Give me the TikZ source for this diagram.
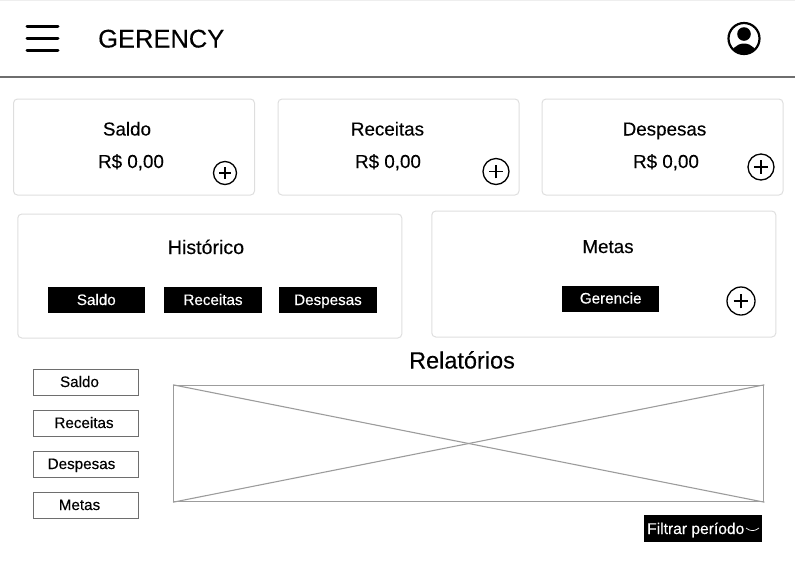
\documentclass[tikz,border=0pt]{standalone}
\usepackage{fontspec}
\setmainfont[RawFeature={embolden=0.25}]{Liberation Sans}
\definecolor{cardgray}{HTML}{DEDEDE}
\definecolor{sidegray}{HTML}{6E6E6E}
\definecolor{reportgray}{HTML}{9C9C9C}
\tikzset{
    card/.style={draw=cardgray, line width=1pt, rounded corners=4pt, inner sep=0pt},
    title/.style={anchor=base, font=\fontsize{18.8}{20}\selectfont, inner sep=0pt},
    blackbtn/.style={fill=black, text=white, inner sep=0pt, minimum width=97.5pt, minimum height=26pt,
        text height=10pt, text depth=0pt, font=\fontsize{15.2}{16}\selectfont},
    sidebtn/.style={draw=sidegray, line width=0.9pt, inner sep=0pt, minimum width=105.5pt, minimum height=26pt},
    sidetext/.style={inner sep=0pt, text height=10pt, text depth=0pt, font=\fontsize{15.2}{16}\selectfont},
    plusbtn/.style={circle, draw=black, line width=1.3pt, inner sep=0pt, minimum size=#1,
        path picture={
            \draw[line width=1.2pt] ([xshift=-0.26*#1]path picture bounding box.center) -- ([xshift=0.26*#1]path picture bounding box.center);
            \draw[line width=1.2pt] ([yshift=-0.26*#1]path picture bounding box.center) -- ([yshift=0.26*#1]path picture bounding box.center);
        }},
}
\begin{document}
\begin{tikzpicture}[x=1pt, y=-1pt]
    \useasboundingbox (0,0) rectangle (795,566);
    % top bar
    \draw[cardgray!50, line width=1pt] (0,0.5) -- (795,0.5);
    \draw[sidegray, line width=1.3pt] (0,77) -- (795,77);
    \draw[line width=3pt, line cap=round] (27,26) -- (58,26);
    \draw[line width=3pt, line cap=round] (27,38.5) -- (58,38.5);
    \draw[line width=3pt, line cap=round] (27,50.5) -- (58,50.5);
    \node[anchor=base west, inner sep=0pt, font=\fontsize{25.5}{28}\selectfont] (brand) at (98,47.5) {GERENCY};
    \node[circle, draw=black, line width=2.2pt, inner sep=0pt, minimum size=31pt,
        path picture={
            \fill ([yshift=4.5pt]path picture bounding box.center) circle (6.8pt);
            \fill ([yshift=-19.5pt]path picture bounding box.center) ellipse (14pt and 14.5pt);
        }] (profile) at (744,38.5) {};

    % top cards
    \node[card, minimum width=241pt, minimum height=96pt] (saldocard) at (134,147) {};
    \node[card, minimum width=241pt, minimum height=96pt] (receitascard) at (398.5,147) {};
    \node[card, minimum width=241pt, minimum height=96pt] (despesascard) at (662.5,147) {};
    \node[title] (saldotitle) at (127,135.5) {Saldo};
    \node[title] (receitastitle) at (387.5,135.5) {Receitas};
    \node[title] (despesastitle) at (664.5,135.5) {Despesas};
    \node[title] (saldovalue) at (131,168) {R\$ 0,00};
    \node[title] (receitasvalue) at (388,168) {R\$ 0,00};
    \node[title] (despesasvalue) at (666,168) {R\$ 0,00};
    \node[plusbtn=23pt] (saldoplus) at (225,173) {};
    \node[plusbtn=26pt] (receitasplus) at (496,171.5) {};
    \node[plusbtn=26pt] (despesasplus) at (761,167) {};

    % middle cards
    \node[card, minimum width=384pt, minimum height=124pt] (historicocard) at (209.8,276) {};
    \node[card, minimum width=344pt, minimum height=126pt] (metascard) at (603.8,274) {};
    \node[title, font=\fontsize{19.6}{20}\selectfont] (historicotitle) at (206,254) {Histórico};
    \node[title] (metastitle) at (608,253) {Metas};
    \node[blackbtn] (histsaldo) at (96.3,300) {Saldo};
    \node[blackbtn] (histreceitas) at (213,300) {Receitas};
    \node[blackbtn] (histdespesas) at (328,300) {Despesas};
    \node[blackbtn] (gerencie) at (610.7,298.5) {Gerencie};
    \node[plusbtn=28pt] (metasplus) at (741,301) {};

    % side list
    \node[sidebtn] (sidesaldo) at (85.8,382) {};
    \node[sidebtn] (sidereceitas) at (85.8,423) {};
    \node[sidebtn] (sidedespesas) at (85.8,464) {};
    \node[sidebtn] (sidemetas) at (85.8,505) {};
    \node[sidetext] at (79.5,382) {Saldo};
    \node[sidetext] at (84,423) {Receitas};
    \node[sidetext] at (81.5,464) {Despesas};
    \node[sidetext] at (79.5,505) {Metas};

    % report
    \node[anchor=base, inner sep=0pt, font=\fontsize{23.5}{26}\selectfont] (relatorios) at (462,368.5) {Relatórios};
    \node[draw=reportgray, line width=1.4pt, inner sep=0pt, minimum width=590pt, minimum height=116pt] (report) at (468.7,443.5) {};
    \draw[reportgray, line width=1.1pt] (report.north west) -- (report.south east);
    \draw[reportgray, line width=1.1pt] (report.south west) -- (report.north east);
    \node[fill=black, inner sep=0pt, minimum width=118pt, minimum height=27pt] (filtrar) at (703,528.5) {};
    \node[anchor=base west, inner sep=0pt, text=white, font=\fontsize{15.6}{16}\selectfont] (filtrartext) at (647,534) {Filtrar período};
    \draw[white, line width=0.7pt] (746,528) .. controls (750,531.5) and (755,531.5) .. (759,528);
\end{tikzpicture}
\end{document}
